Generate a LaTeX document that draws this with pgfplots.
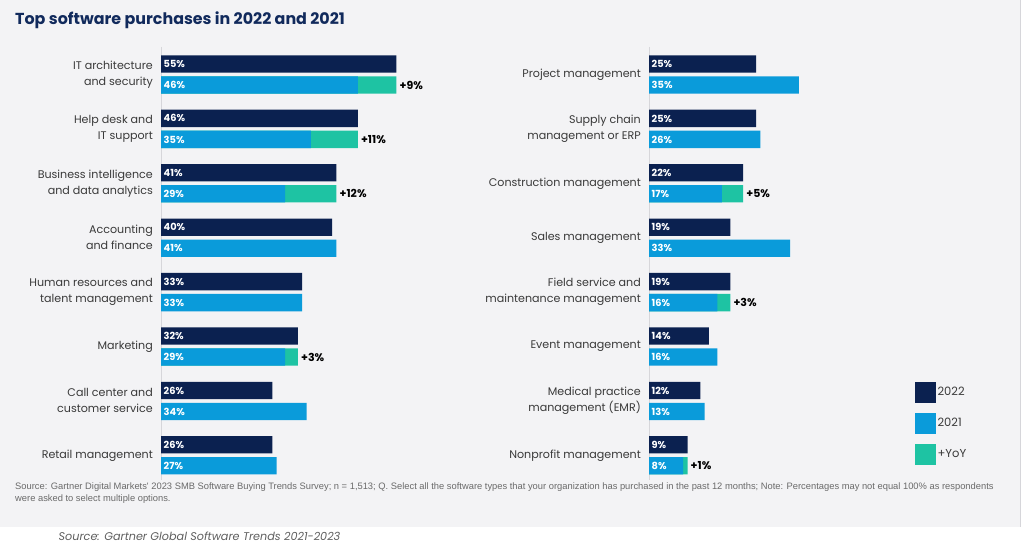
\documentclass[border=0pt]{standalone}
\usepackage{pgfplots}
\pgfplotsset{compat=1.18}
\usepackage{pgfplotstable}
\usepackage{fontspec}
\setmainfont{Poppins}
\newfontfamily\notefont{Liberation Sans}
\definecolor{navy}{HTML}{0B2150}
\definecolor{blueb}{HTML}{0A9BDA}
\definecolor{yoyc}{HTML}{1EC3A3}
\definecolor{bg}{HTML}{F3F3F5}
\definecolor{labgrey}{HTML}{3A3A3A}
\definecolor{titlenavy}{HTML}{112A5C}
\definecolor{linegrey}{HTML}{D6D6DA}
\definecolor{notegrey}{HTML}{6A6A6A}

\pgfplotstableread{
y22 y21 v22 v21
64 85 55 46
118.4 139.4 46 35
172.8 193.8 41 29
227.2 248.2 40 41
281.6 302.6 33 33
336 357 32 29
390.4 411.4 26 34
444.8 465.8 26 27
}\lefttab
\pgfplotstableread{
y21 v22 d
85 55 9
139.4 46 11
193.8 41 12
357 32 3
}\leftyoy
\pgfplotstableread{
y22 y21 v22 v21
64 85 25 35
118.4 139.4 25 26
172.8 193.8 22 17
227.2 248.2 19 33
281.6 302.6 19 16
336 357 14 16
390.4 411.4 12 13
444.8 465.8 9 8
}\righttab
\pgfplotstableread{
y21 v22 d
193.8 22 5
302.6 19 3
465.8 9 1
}\rightyoy

\pgfplotsset{
  halfchart/.style={
    scale only axis, width=256.8pt, height=556pt,
    xmin=0, xmax=60, ymin=0, ymax=556, y dir=reverse,
    enlargelimits=false, clip=false,
    axis line style={draw=none},
    xtick=\empty,
    ytick={74.5,128.9,183.3,237.7,292.1,346.5,400.9,455.3},
    major tick length=0pt,
    ytick style={draw=none},
    /pgf/number format/assume math mode=true,
    yticklabel style={font=\fontsize{11.1}{16}\selectfont, text=labgrey, align=right, inner xsep=0pt, xshift=-8pt},
  },
  barA/.style={xbar, bar width=17.3, bar shift=0pt, draw=none, forget plot},
  vallab/.style={draw=none, mark=none, forget plot, point meta=explicit,
    nodes near coords={\pgfmathprintnumber{\pgfplotspointmeta}\%},
    every node near coord/.style={anchor=west, inner sep=0pt, xshift=2.5pt, text=white, font=\bfseries\fontsize{9.8}{12}\selectfont}},
  yoylab/.style={draw=none, mark=none, forget plot, point meta=explicit,
    nodes near coords={+\pgfmathprintnumber{\pgfplotspointmeta}\%},
    every node near coord/.style={anchor=west, inner sep=0pt, xshift=3pt, text=black, font=\bfseries\fontsize{11}{13}\selectfont}},
}

\begin{document}
\begin{tikzpicture}[x=1pt,y=1pt]
\path[use as bounding box] (0,0) rectangle (1024,556);
\fill[white] (0,0) rectangle (1024,556);
\fill[bg] (0,29) rectangle (1020,556);
\draw[linegrey, line width=0.8pt] (1020.5,29) -- (1020.5,556);

\node[anchor=base west, inner sep=0pt, text=titlenavy, font=\bfseries\fontsize{15.9}{20}\selectfont] at (15,531) {Top software purchases in 2022 and 2021};

\begin{axis}[halfchart, at={(161pt,0pt)}, anchor=south west,
  yticklabels={{IT architecture\\and security},{Help desk and\\IT support},{Business intelligence\\and data analytics},{Accounting\\and finance},{Human resources and\\talent management},{Marketing},{Call center and\\customer service},{Retail management}}]
\draw[linegrey, line width=0.8pt] (axis cs:0,47) -- (axis cs:0,480);
\addplot[barA, fill=yoyc] table[x=v22, y=y21] {\leftyoy};
\addplot[barA, fill=blueb] table[x=v21, y=y21] {\lefttab};
\addplot[barA, fill=navy] table[x=v22, y=y22] {\lefttab};
\addplot[vallab] table[x expr=0, y=y22, meta=v22] {\lefttab};
\addplot[vallab] table[x expr=0, y=y21, meta=v21] {\lefttab};
\addplot[yoylab] table[x=v22, y=y21, meta=d] {\leftyoy};
\end{axis}

\begin{axis}[halfchart, at={(649pt,0pt)}, anchor=south west,
  yticklabels={{Project management},{Supply chain\\management or ERP},{Construction management},{Sales management},{Field service and\\maintenance management},{Event management},{Medical practice\\management (EMR)},{Nonprofit management}},
  legend style={at={(1.0358,0.313)}, anchor=north west, draw=none, fill=none, inner sep=0pt,
    row sep=10.5pt, font=\fontsize{11.5}{14}\selectfont, text=labgrey,
    /tikz/every even column/.append style={column sep=4pt}},
  legend cell align=left]
\draw[linegrey, line width=0.8pt] (axis cs:0,47) -- (axis cs:0,480);
\addplot[barA, fill=yoyc] table[x=v22, y=y21] {\rightyoy};
\addplot[barA, fill=blueb] table[x=v21, y=y21] {\righttab};
\addplot[barA, fill=navy] table[x=v22, y=y22] {\righttab};
\addplot[vallab] table[x expr=0, y=y22, meta=v22] {\righttab};
\addplot[vallab] table[x expr=0, y=y21, meta=v21] {\righttab};
\addplot[yoylab] table[x=v22, y=y21, meta=d] {\rightyoy};
\addlegendimage{legend image code/.code={\fill[navy] (0pt,-10pt) rectangle (20pt,10pt);}}
\addlegendentry{2022}
\addlegendimage{legend image code/.code={\fill[blueb] (0pt,-10pt) rectangle (20pt,10pt);}}
\addlegendentry{2021}
\addlegendimage{legend image code/.code={\fill[yoyc] (0pt,-10pt) rectangle (20pt,10pt);}}
\addlegendentry{+YoY}
\end{axis}

\node[anchor=base west, inner sep=0pt, text=notegrey, align=left, font=\notefont\fontsize{9.35}{12.5}\selectfont] at (15,54) {Source: Gartner Digital Markets' 2023 SMB Software Buying Trends Survey; n = 1,513; Q. Select all the software types that your organization has purchased in the past 12 months; Note: Percentages may not equal 100\% as respondents\\were asked to select multiple options.};
\node[anchor=base west, inner sep=0pt, text=notegrey!90!black, font=\itshape\fontsize{11.2}{13}\selectfont] at (58.5,15) {Source: Gartner Global Software Trends 2021-2023};
\end{tikzpicture}
\end{document}
